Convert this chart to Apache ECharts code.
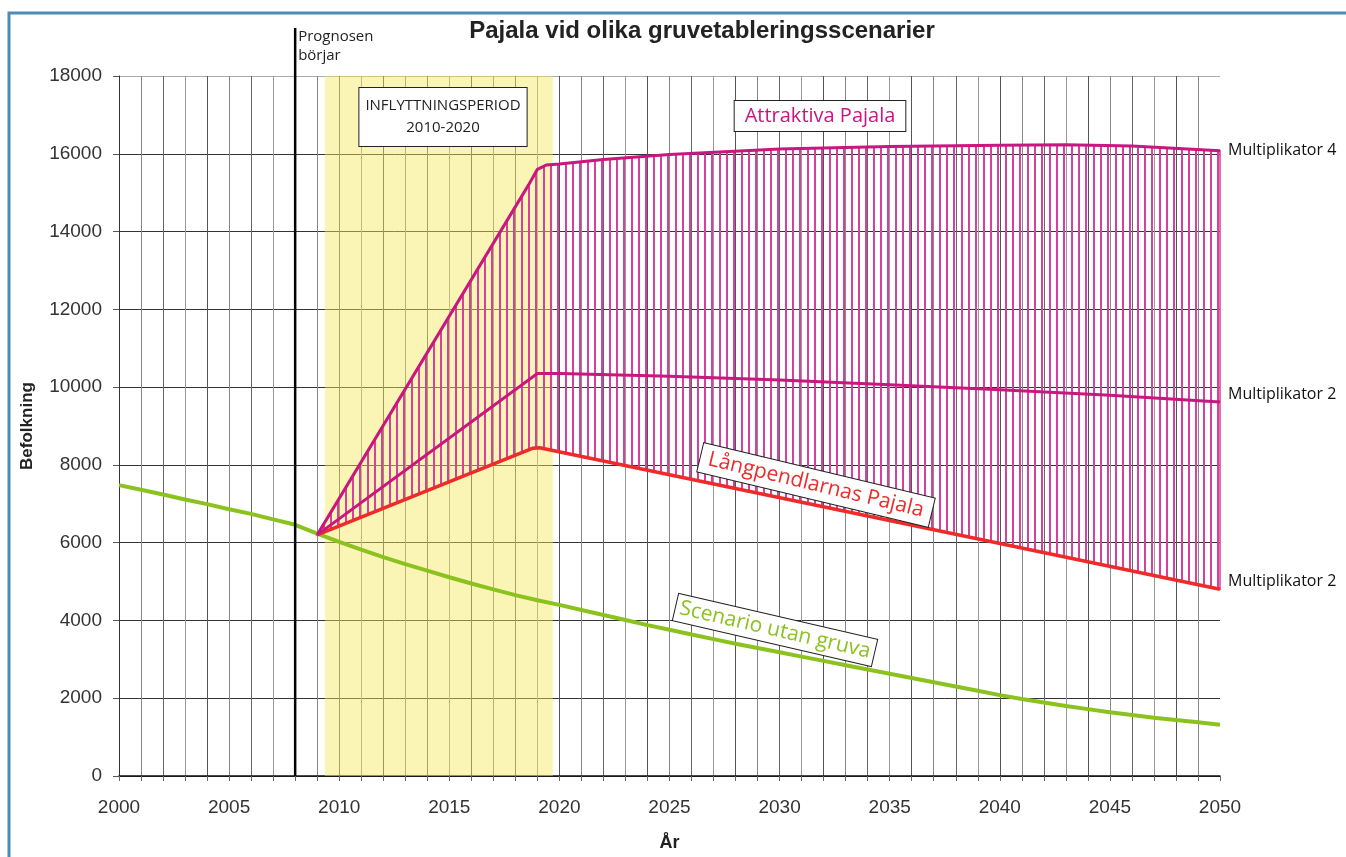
<!DOCTYPE html>
<html>
<head>
<meta charset="utf-8">
<script src="https://cdn.jsdelivr.net/npm/echarts@6/dist/echarts.min.js"></script>
<style>
  html, body { margin: 0; padding: 0; background: #fff; }
  #main { width: 1346px; height: 857px; }
</style>
</head>
<body>
<div id="main"></div>
<script>
// yearly values
const years = [
  2000, 2001, 2002, 2003, 2004, 2005, 2006, 2007, 2008, 2009,
  2010, 2011, 2012, 2013, 2014, 2015, 2016, 2017, 2018, 2019,
  2020, 2021, 2022, 2023, 2024, 2025, 2026, 2027, 2028, 2029,
  2030, 2031, 2032, 2033, 2034, 2035, 2036, 2037, 2038, 2039,
  2040, 2041, 2042, 2043, 2044, 2045, 2046, 2047, 2048, 2049, 2050,
];
const utanGruva = [
  7480, 7360, 7240, 7110, 6990, 6860, 6740, 6600, 6460, 6230,
  6020, 5820, 5630, 5450, 5280, 5110, 4950, 4800, 4650, 4520,
  4400, 4270, 4140, 4010, 3880, 3760, 3640, 3520, 3400, 3290,
  3180, 3070, 2960, 2850, 2740, 2630, 2520, 2410, 2300, 2190,
  2080, 1980, 1890, 1800, 1720, 1640, 1570, 1500, 1440, 1380, 1320,
];

// [year, population] break points of the mine scenarios
const langpendlare = [[2009, 6200], [2018.8, 8430], [2019.1, 8440], [2050, 4800]];
const multiplikator2 = [
  [2009, 6200], [2019, 10350], [2020, 10350], [2025, 10280], [2030, 10180],
  [2035, 10060], [2040, 9930], [2045, 9790], [2050, 9620],
];
const attraktiva = [
  [2009, 6200], [2018.6, 15200], [2019.0, 15600], [2019.4, 15710], [2020, 15740],
  [2022, 15850], [2025, 15980], [2030, 16120], [2035, 16190], [2040, 16220],
  [2043, 16230], [2046, 16200], [2050, 16080],
];

const prognosStart = 2008;
const inflyttning = [2009.35, 2019.7];

const magenta = "#c8177f";
const hatchColor = "#d8409f";
const red = "#ee2a2a";
const green = "#8cc21f";
const labelFont = "Open Sans";
const axisFont = "Liberation Sans";

// vertical line pattern for the area between the scenarios
const hatch = document.createElement("canvas");
hatch.width = 22;
hatch.height = 8;
const hctx = hatch.getContext("2d");
hctx.fillStyle = hatchColor;
[0, 7, 15].forEach((x) => hctx.fillRect(x, 0, 2, 8));

const yGridColors = ["#333", "#333", "#333", "#333", "#333", "#333", "#333", "#333", "#333", "#aaa"];

const option = {
  animation: false,
  title: {
    text: "Pajala vid olika gruvetableringsscenarier",
    left: 697,
    textAlign: "center",
    top: 14,
    textStyle: { fontFamily: axisFont, fontWeight: "bold", fontSize: 24, color: "#222" },
  },
  grid: { left: 119, right: 126, top: 76, bottom: 79 },
  xAxis: {
    type: "value",
    min: 2000,
    max: 2050,
    interval: 1,
    name: "År",
    nameLocation: "middle",
    nameGap: 58,
    nameTextStyle: { fontFamily: axisFont, fontWeight: "bold", fontSize: 18, color: "#222" },
    axisLine: { lineStyle: { color: "#111", width: 1.5 } },
    axisTick: { length: 5, lineStyle: { color: "#666" } },
    axisLabel: {
      margin: 22,
      fontFamily: axisFont,
      fontSize: 19,
      color: "#333",
      formatter: (v) => (v % 5 === 0 ? String(v) : ""),
    },
    splitLine: {
      show: true,
      showMaxLine: false,
      lineStyle: { color: ["#555", "#888", "#666", "#999"], width: 1 },
    },
  },
  yAxis: {
    type: "value",
    min: 0,
    max: 18000,
    interval: 2000,
    name: "Befolkning",
    nameLocation: "middle",
    nameGap: 83,
    nameTextStyle: { fontFamily: axisFont, fontWeight: "bold", fontSize: 17, color: "#222" },
    axisLine: { show: true, lineStyle: { color: "#333" } },
    axisTick: { show: true, length: 6, lineStyle: { color: "#555" } },
    axisLabel: {
      margin: 17,
      fontFamily: axisFont,
      fontSize: 19,
      color: "#333",
      formatter: (v) => String(v),
    },
    splitLine: { lineStyle: { color: yGridColors, width: 1 } },
  },
  series: [
    {
      name: "Inflyttningsperiod",
      type: "line",
      data: [],
      markArea: {
        silent: true,
        itemStyle: { color: "rgba(247, 232, 90, 0.45)" },
        data: [[{ xAxis: inflyttning[0] }, { xAxis: inflyttning[1] }]],
      },
    },
    {
      name: "Spann",
      type: "custom",
      z: 2,
      data: [[attraktiva[0][0], attraktiva[0][1]]],
      renderItem: (params, api) => {
        const upper = attraktiva.map((p) => api.coord(p));
        const lower = langpendlare.slice().reverse().map((p) => api.coord(p));
        return {
          type: "polygon",
          shape: { points: upper.concat(lower) },
          style: {
            fill: { image: hatch, repeat: "repeat" },
            stroke: hatchColor,
            lineWidth: 1.5,
          },
        };
      },
    },
    {
      name: "Scenario utan gruva",
      type: "line",
      z: 3,
      symbol: "none",
      data: years.map((y, i) => [y, utanGruva[i]]),
      lineStyle: { color: green, width: 4 },
    },
    {
      name: "Långpendlarnas Pajala",
      type: "line",
      z: 4,
      symbol: "none",
      data: langpendlare,
      lineStyle: { color: red, width: 3.5 },
      endLabel: {
        show: true,
        formatter: "Multiplikator 2",
        distance: 8,
        offset: [0, -8],
        fontFamily: labelFont,
        fontSize: 16,
        color: "#111",
      },
    },
    {
      name: "Multiplikator 2",
      type: "line",
      z: 4,
      symbol: "none",
      data: multiplikator2,
      lineStyle: { color: magenta, width: 3 },
      endLabel: {
        show: true,
        formatter: "Multiplikator 2",
        distance: 8,
        offset: [0, -7],
        fontFamily: labelFont,
        fontSize: 16,
        color: "#111",
      },
    },
    {
      name: "Attraktiva Pajala",
      type: "line",
      z: 4,
      symbol: "none",
      data: attraktiva,
      lineStyle: { color: magenta, width: 3 },
      endLabel: {
        show: true,
        formatter: "Multiplikator 4",
        distance: 8,
        fontFamily: labelFont,
        fontSize: 16,
        color: "#111",
      },
    },
  ],
};

const myChart = echarts.init(document.getElementById("main"));
myChart.setOption(option);

const [prognosX, baseY] = myChart.convertToPixel({ gridIndex: 0 }, [prognosStart, 0]);

const boxText = (text, x, y, color, size, deg, pad) => ({
  type: "text",
  x,
  y,
  rotation: (deg * Math.PI) / 180,
  z: 20,
  style: {
    text,
    fill: color,
    font: `${size}px "${labelFont}"`,
    align: "center",
    verticalAlign: "middle",
    backgroundColor: "#fff",
    borderColor: "#222",
    borderWidth: 1,
    padding: pad,
  },
});

myChart.setOption({
  graphic: [
    {
      type: "rect",
      silent: true,
      shape: { x: 9, y: 13, width: 1400, height: 900 },
      style: { fill: "none", stroke: "#4d8db5", lineWidth: 3 },
    },
    {
      type: "line",
      z: 10,
      shape: { x1: prognosX, y1: 28, x2: prognosX, y2: baseY },
      style: { stroke: "#000", lineWidth: 2.5 },
    },
    {
      type: "text",
      x: prognosX + 3,
      y: 27,
      z: 10,
      style: {
        text: "Prognosen\nbörjar",
        fill: "#222",
        font: `15px "${labelFont}"`,
        lineHeight: 19,
      },
    },
    {
      type: "text",
      x: 443,
      y: 117,
      z: 20,
      style: {
        text: "INFLYTTNINGSPERIOD\n2010-2020",
        fill: "#222",
        font: `15px "${labelFont}"`,
        lineHeight: 22,
        align: "center",
        verticalAlign: "middle",
        backgroundColor: "#fff",
        borderColor: "#222",
        borderWidth: 1,
        padding: [7, 6, 7, 6],
      },
    },
    boxText("Attraktiva Pajala", 820, 116, "#cc1480", 20, 0, [5, 10, 5, 10]),
    boxText("Långpendlarnas Pajala", 816, 485, red, 21, -13.5, [4, 8, 4, 8]),
    boxText("Scenario utan gruva", 775, 630, green, 21, -13, [3, 4, 3, 4]),
  ],
});
</script>
</body>
</html>
